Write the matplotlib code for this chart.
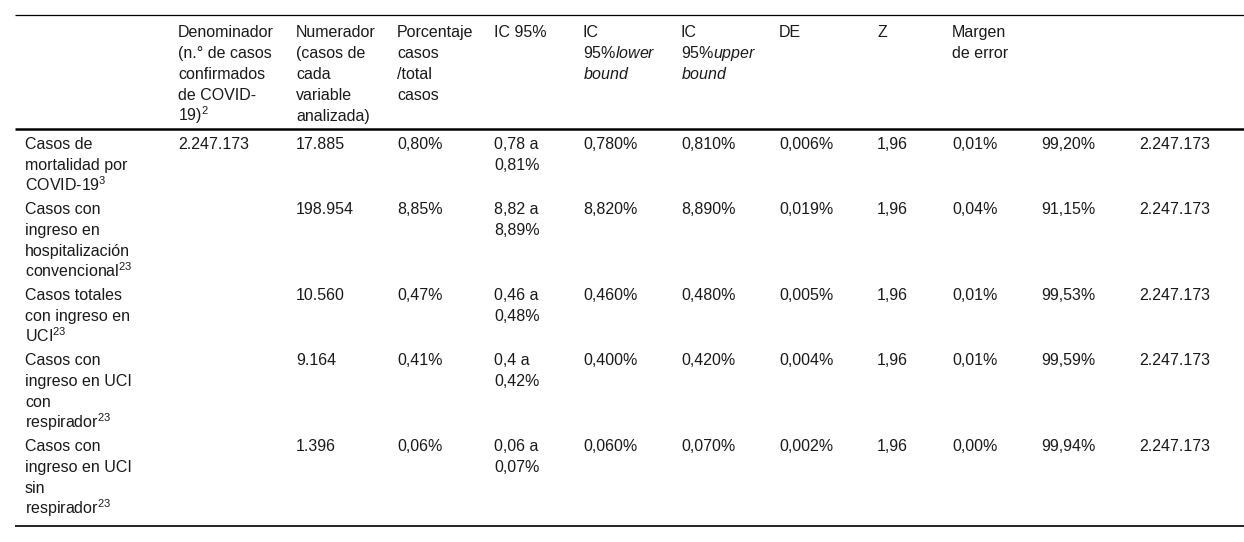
import matplotlib
matplotlib.use("Agg")
import matplotlib.pyplot as plt

plt.rcParams["font.family"] = ["Liberation Sans", "DejaVu Sans"]
plt.rcParams["mathtext.fontset"] = "custom"
plt.rcParams["mathtext.rm"] = "Liberation Sans"
plt.rcParams["mathtext.it"] = "Liberation Sans:italic"

# column headers (one entry per wrapped line)
headers = [
    [],
    ["Denominador", "(n.° de casos", "confirmados", "de COVID-", "19)$^{2}$"],
    ["Numerador", "(casos de", "cada", "variable", "analizada)"],
    ["Porcentaje", "casos", "/total", "casos"],
    ["IC 95%"],
    ["IC", r"95%$\mathit{lower}$", r"$\mathit{bound}$"],
    ["IC", r"95%$\mathit{upper}$", r"$\mathit{bound}$"],
    ["DE"],
    ["Z"],
    ["Margen", "de error"],
    [],
    [],
]

row_labels = [
    ["Casos de", "mortalidad por", "COVID-19$^{3}$"],
    ["Casos con", "ingreso en", "hospitalización", "convencional$^{23}$"],
    ["Casos totales", "con ingreso en", "UCI$^{23}$"],
    ["Casos con", "ingreso en UCI", "con", "respirador$^{23}$"],
    ["Casos con", "ingreso en UCI", "sin", "respirador$^{23}$"],
]

denominador = ["2.247.173", "", "", "", ""]
numerador = ["17.885", "198.954", "10.560", "9.164", "1.396"]
porcentaje = ["0,80%", "8,85%", "0,47%", "0,41%", "0,06%"]
ic95 = [["0,78 a", "0,81%"], ["8,82 a", "8,89%"], ["0,46 a", "0,48%"],
        ["0,4 a", "0,42%"], ["0,06 a", "0,07%"]]
ic_lower = ["0,780%", "8,820%", "0,460%", "0,400%", "0,060%"]
ic_upper = ["0,810%", "8,890%", "0,480%", "0,420%", "0,070%"]
de = ["0,006%", "0,019%", "0,005%", "0,004%", "0,002%"]
z = ["1,96", "1,96", "1,96", "1,96", "1,96"]
margen = ["0,01%", "0,04%", "0,01%", "0,01%", "0,00%"]
complemento = ["99,20%", "91,15%", "99,53%", "99,59%", "99,94%"]
total = ["2.247.173"] * 5

col_x = [25, 178, 296, 397, 494, 583, 681, 779, 877, 952, 1041, 1139]
line_h = 21
fs = 11.5

fig = plt.figure(figsize=(12.44, 5.42), dpi=100)
ax = fig.add_axes([0, 0, 1, 1])
ax.set_xlim(0, 1244)
ax.set_ylim(542, 0)
ax.axis("off")


def cell(x, y0, lines):
    for k, s in enumerate(lines):
        ax.text(x, y0 + k * line_h + 5, s, fontsize=fs, va="baseline",
                ha="left", color="#1a1a1a")


# header
for x, lines in zip(col_x, headers):
    cell(x, 32, lines)

ax.plot([15, 1244], [15, 15], color="black", lw=0.9, solid_capstyle="butt")
ax.plot([15, 1244], [128.5, 128.5], color="black", lw=1.8, solid_capstyle="butt")

# body
y = 144
for i, lab in enumerate(row_labels):
    cols = [lab, [denominador[i]], [numerador[i]], [porcentaje[i]], ic95[i],
            [ic_lower[i]], [ic_upper[i]], [de[i]], [z[i]], [margen[i]],
            [complemento[i]], [total[i]]]
    for x, lines in zip(col_x, cols):
        cell(x, y, lines)
    y += len(lab) * line_h + 2

ax.plot([15, 1244], [525.5, 525.5], color="black", lw=1.2, solid_capstyle="butt")

fig.savefig("out.png", dpi=100)
